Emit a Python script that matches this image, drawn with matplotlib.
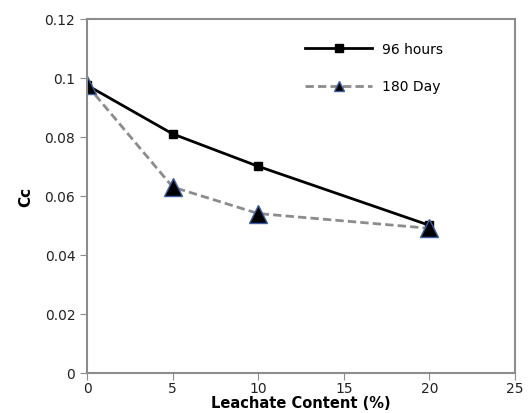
import matplotlib
matplotlib.use('Agg')
from matplotlib import pyplot as plt
from matplotlib.lines import Line2D

# data
leachate = [0, 5, 10, 20]
cc_96h = [0.0975, 0.081, 0.070, 0.050]
cc_180d = [0.0975, 0.063, 0.054, 0.049]
xticks = [0, 5, 10, 15, 20, 25]
yticks = [0, 0.02, 0.04, 0.06, 0.08, 0.1, 0.12]
ytick_labels = ['0', '0.02', '0.04', '0.06', '0.08', '0.1', '0.12']

plt.rcParams['font.family'] = ['DejaVu Sans']

fig = plt.figure(figsize=(5.31, 4.14), dpi=100)
ax = fig.add_axes([0.164, 0.097, 0.806, 0.855])

dash = (0, (3, 1.5))
ax.plot(leachate, cc_96h, color='black', lw=2, marker='s', ms=6)
ax.plot(leachate, cc_180d, color='#8c8c8c', lw=2, ls=dash, marker='^',
        ms=13, mfc='black', mec='#3a5fa8', mew=1)

ax.set_xlim(0, 25)
ax.set_ylim(0, 0.12)
ax.set_xticks(xticks)
ax.set_yticks(yticks)
ax.set_yticklabels(ytick_labels)
ax.tick_params(direction='out', length=5, color='#8c8c8c', labelsize=10, labelcolor='#222222')
ax.tick_params(axis='x', pad=1)
for s in ax.spines.values():
    s.set_color('#8c8c8c')
    s.set_linewidth(1.5)

ax.set_xlabel('Leachate Content (%)', fontsize=10.5, fontweight='bold', labelpad=0)
ax.set_ylabel('Cc', fontsize=11, fontweight='bold', labelpad=8)

# legend proxies (legend marker sizes differ from the plotted ones)
handles = [Line2D([], [], color='black', lw=2, marker='s', ms=6),
           Line2D([], [], color='#8c8c8c', lw=2, ls=dash, marker='^', ms=7,
                  mfc='black', mec='#3a5fa8', mew=1)]
ax.legend(handles, ['96 hours', '180 Day'], loc='upper left',
          bbox_to_anchor=(0.51, 0.935), frameon=False, fontsize=10,
          borderaxespad=0, borderpad=0, handlelength=4.8, handletextpad=0.7,
          labelspacing=1.7)

fig.savefig('out.png', dpi=100)
